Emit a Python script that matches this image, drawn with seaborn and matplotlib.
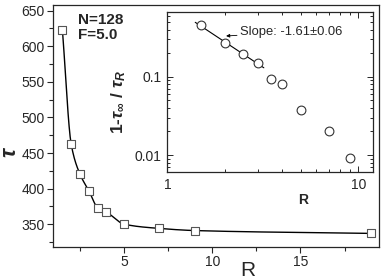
import numpy as np
import pandas as pd
import matplotlib
matplotlib.use("Agg")
import matplotlib.pyplot as plt
from matplotlib.ticker import MultipleLocator, LogLocator, NullFormatter, FixedLocator
import seaborn as sns

# ---- data ----
R_main = [1.5, 2.0, 2.5, 3.0, 3.5, 4.0, 5.0, 7.0, 9.0, 19.0]
tau_main = [623, 462, 420, 397, 373, 367, 350, 344, 341, 337]

R_inset = [1.5, 2.0, 2.5, 3.0, 3.5, 4.0, 5.0, 7.0, 9.0]
y_inset = [0.46, 0.267, 0.195, 0.148, 0.094, 0.080, 0.038, 0.0204, 0.0092]

fit_R = [1.4, 3.2]
fit_y = [0.495, 0.130]
slope_text = "Slope: -1.61\u00b10.06"
labels_text = ["N=128", "F=5.0"]

sns.set_style("ticks")
plt.rcParams['font.family'] = ['Liberation Sans', 'DejaVu Sans']
plt.rcParams['mathtext.fontset'] = 'custom'
plt.rcParams['mathtext.rm'] = 'Liberation Sans:bold'
plt.rcParams['mathtext.it'] = 'Liberation Sans:italic:bold'
plt.rcParams['mathtext.bf'] = 'Liberation Sans:bold'


def pchip(x, y, xn):
    x = np.asarray(x, float); y = np.asarray(y, float)
    h = np.diff(x); d = np.diff(y) / h
    n = len(x); m = np.zeros(n)
    for k in range(1, n - 1):
        if d[k - 1] * d[k] <= 0:
            m[k] = 0
        else:
            w1 = 2 * h[k] + h[k - 1]; w2 = h[k] + 2 * h[k - 1]
            m[k] = (w1 + w2) / (w1 / d[k - 1] + w2 / d[k])
    m[0] = d[0]; m[-1] = d[-1]
    out = np.empty_like(xn)
    for i, xv in enumerate(xn):
        k = min(np.searchsorted(x, xv) - 1, n - 2); k = max(k, 0)
        t = (xv - x[k]) / h[k]
        h00 = 2*t**3 - 3*t**2 + 1; h10 = t**3 - 2*t**2 + t
        h01 = -2*t**3 + 3*t**2; h11 = t**3 - t**2
        out[i] = h00*y[k] + h10*h[k]*m[k] + h01*y[k+1] + h11*h[k]*m[k+1]
    return out

fig = plt.figure(figsize=(3.82, 2.79), dpi=100)
ax = fig.add_axes([0.138, 0.115, 0.854, 0.867])

xs = np.linspace(R_main[0], R_main[-1], 600)
curve = pd.DataFrame({"R": xs, "tau": pchip(R_main, tau_main, xs)})
sns.lineplot(data=curve, x="R", y="tau", ax=ax, color="black", lw=1.0)
df = pd.DataFrame({"R": R_main, "tau": tau_main})
sns.scatterplot(data=df, x="R", y="tau", ax=ax, marker="s", s=32,
                facecolor="white", edgecolor="#555555", linewidth=0.8, zorder=3)

ax.set_xlim(0.95, 19.45)
ax.set_ylim(318, 658)
ax.xaxis.set_major_locator(FixedLocator([5, 10, 15]))
ax.xaxis.set_minor_locator(FixedLocator([2.5, 7.5, 12.5, 17.5]))
ax.set_yticks([350, 400, 450, 500, 550, 600, 650])
ax.yaxis.set_minor_locator(MultipleLocator(25))
ax.tick_params(which='both', direction='out', labelsize=10, width=0.8)
ax.tick_params(which='major', length=4, pad=2)
ax.tick_params(which='minor', length=3)
for s in ax.spines.values():
    s.set_linewidth(0.9)
ax.set_xlabel("R", fontsize=15)
ax.xaxis.set_label_coords(0.597, -0.06)
ax.set_ylabel("\u03c4", fontsize=16, fontweight='bold', fontstyle='italic')
ax.yaxis.set_label_coords(-0.10, 0.39)
ax.text(0.078, 0.938, labels_text[0], transform=ax.transAxes, fontsize=11,
        fontweight='bold', va='center', ha='left')
ax.text(0.078, 0.878, labels_text[1], transform=ax.transAxes, fontsize=11,
        fontweight='bold', va='center', ha='left')

# ---- inset ----
ins = fig.add_axes([0.438, 0.382, 0.538, 0.576])
dfi = pd.DataFrame({"R": R_inset, "y": y_inset})
dff = pd.DataFrame({"R": fit_R, "y": fit_y})
sns.lineplot(data=dff, x="R", y="y", ax=ins, color="black", lw=0.8)
sns.scatterplot(data=dfi, x="R", y="y", ax=ins, marker="o", s=40,
                facecolor="white", edgecolor="#333333", linewidth=0.8, zorder=3)
ins.set_xscale("log")
ins.set_yscale("log")
ins.set_xlim(1, 11.9)
ins.set_ylim(0.006, 0.676)
ins.set_xticks([1, 10])
ins.set_xticklabels(["1", "10"])
ins.set_yticks([0.01, 0.1])
ins.set_yticklabels(["0.01", "0.1"])
ins.xaxis.set_minor_locator(LogLocator(base=10, subs=np.arange(2, 10)))
ins.yaxis.set_minor_locator(LogLocator(base=10, subs=np.arange(2, 10)))
ins.xaxis.set_minor_formatter(NullFormatter())
ins.yaxis.set_minor_formatter(NullFormatter())
ins.tick_params(which='both', direction='in', top=True, right=True,
                labelsize=10, width=0.7)
ins.tick_params(which='major', length=4, pad=4)
ins.tick_params(which='minor', length=2)
for s in ins.spines.values():
    s.set_linewidth(0.9)
ins.set_xlabel("R", fontsize=10, fontweight='bold')
ins.xaxis.set_label_coords(0.66, -0.13)
ins.set_ylabel(r"1-$\tau_\infty$ / $\tau_R$", fontsize=12.5, fontweight='bold')
ins.yaxis.set_label_coords(-0.19, 0.44)
ins.annotate(slope_text, xy=(0.286, 0.849), xycoords='axes fraction',
             xytext=(0.355, 0.873), textcoords='axes fraction',
             fontsize=9.4, va='center', ha='left',
             arrowprops=dict(arrowstyle='-|>', color='black', lw=0.6,
                             mutation_scale=5, shrinkA=0, shrinkB=0))

fig.savefig("out.png", dpi=100)
